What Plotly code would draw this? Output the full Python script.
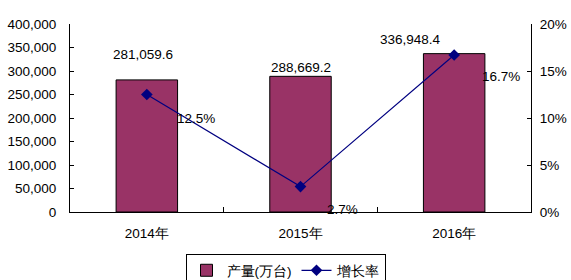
import plotly.graph_objects as go

categories = ["2014年", "2015年", "2016年"]
output = [281059.6, 288669.2, 336948.4]
growth = [0.125, 0.027, 0.167]
output_labels = ["281,059.6", "288,669.2", "336,948.4"]
growth_labels = ["12.5%", "2.7%", "16.7%"]

FONT = "Liberation Sans, Arial, sans-serif"
FS = 13.5
fig = go.Figure()
fig.add_trace(go.Bar(x=categories, y=output, name="产量(万台)", width=0.4,
                     marker=dict(color="#993366", line=dict(color="black", width=1))))
fig.add_trace(go.Scatter(x=categories, y=growth, name="增长率", yaxis="y2",
                         mode="lines+markers",
                         line=dict(color="#000080", width=1.2),
                         marker=dict(symbol="diamond", size=9, color="#000080")))

bar_shifts = [(-4, 25), (0, 9), (-44, 14)]
for c, v, t, (dx, dy) in zip(categories, output, output_labels, bar_shifts):
    fig.add_annotation(x=c, y=v, text=t, showarrow=False, xshift=dx, yshift=dy,
                       font=dict(size=FS, color="black", family=FONT))
line_shifts = [(49, -24), (42, -23), (47, -21)]
for c, v, t, (dx, dy) in zip(categories, growth, growth_labels, line_shifts):
    fig.add_annotation(x=c, y=v, yref="y2", text=t, showarrow=False, xshift=dx, yshift=dy,
                       font=dict(size=FS, color="black", family=FONT))

fig.update_layout(
    width=571, height=280, margin=dict(l=70, r=40, t=24, b=68, autoexpand=False),
    paper_bgcolor="white", plot_bgcolor="white",
    font=dict(family=FONT, size=FS, color="black"),
    showlegend=True,
    legend=dict(orientation="h", x=0.5, xanchor="center", xref="container",
                y=(280 - 254) / 280, yanchor="top", yref="container",
                bordercolor="black", borderwidth=1, font=dict(size=FS, family=FONT),
                itemwidth=30, tracegroupgap=0),
    xaxis=dict(showline=True, linecolor="black", linewidth=1, ticks="inside",
               tickson="boundaries", ticklen=5, tickcolor="black",
               showgrid=False, mirror=False, ticklabelstandoff=9),
    yaxis=dict(range=[0, 400000], dtick=50000, tickformat=",", showline=True,
               linecolor="black", linewidth=1, ticks="inside", ticklen=4,
               tickcolor="black", showgrid=False, zeroline=False,
               ticklabelstandoff=10),
    yaxis2=dict(range=[0, 0.2], dtick=0.05, tickformat=".0%", overlaying="y",
                side="right", showline=True, linecolor="black", linewidth=1,
                ticks="inside", ticklen=4, tickcolor="black", showgrid=False,
                zeroline=False, ticklabelstandoff=5),
    bargap=0.6,
)
fig.write_html("out.html")
